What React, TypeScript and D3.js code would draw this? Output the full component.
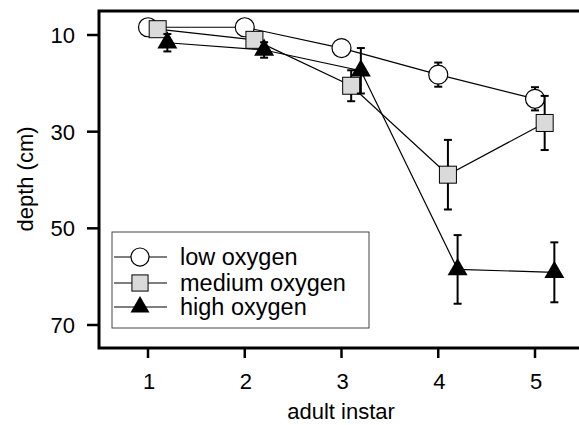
import React from 'react';
import * as d3 from 'd3';

// Data
const instars = [1, 2, 3, 4, 5];
const lowDepth = [8.4, 8.4, 12.7, 18.2, 23.2];
const lowErr = [0.8, 0.8, 1.0, 2.5, 2.4];
const mediumDepth = [8.8, 11.0, 20.5, 38.9, 28.2];
const mediumErr = [1.0, 1.2, 3.2, 7.2, 5.6];
const highDepth = [11.6, 13.1, 17.4, 58.5, 59.1];
const highErr = [1.8, 1.6, 4.7, 7.1, 6.2];
const yTicks = [10, 30, 50, 70];
const xTicks = [1, 2, 3, 4, 5];

type Shape = 'circle' | 'square' | 'triangle';

interface Series {
  name: string;
  values: number[];
  errors: number[];
  shape: Shape;
  offset: number;
}

const series: Series[] = [
  { name: 'low oxygen', values: lowDepth, errors: lowErr, shape: 'circle', offset: 0 },
  { name: 'medium oxygen', values: mediumDepth, errors: mediumErr, shape: 'square', offset: 0.1 },
  { name: 'high oxygen', values: highDepth, errors: highErr, shape: 'triangle', offset: 0.2 },
];

const W = 579;
const H = 425;
const FONT = '"Liberation Sans", Arial, Helvetica, sans-serif';

const Marker = ({ shape, cx, cy, scale = 1 }: { shape: Shape; cx: number; cy: number; scale?: number }) => {
  if (shape === 'circle') {
    return <circle cx={cx} cy={cy} r={9.5 * scale} fill="#fff" stroke="#000" strokeWidth={1.2} />;
  }
  if (shape === 'square') {
    const s = 17 * scale;
    return <rect x={cx - s / 2} y={cy - s / 2} width={s} height={s} fill="#dadada" stroke="#000" strokeWidth={1} />;
  }
  const path = d3.symbol().type(d3.symbolTriangle).size(173 * scale * scale)();
  return <path d={path || undefined} transform={`translate(${cx},${cy})`} fill="#000" />;
};

const App = () => {
  const x = d3.scaleLinear().domain([1, 5]).range([148, 535]);
  const y = d3.scaleLinear().domain([10, 70]).range([35, 325]);

  const left = 99;
  const top = 11;
  const bottom = 348;

  const line = d3
    .line<[number, number]>()
    .x(d => d[0])
    .y(d => d[1]);

  const legendRows = [257, 283, 307];

  return (
    <svg
      width={W}
      height={H}
      style={{ position: 'absolute', left: 0, top: 0, background: '#fff' }}
      fontFamily={FONT}
    >
      {/* frame */}
      <rect x={left} y={top} width={W} height={bottom - top} fill="none" stroke="#000" strokeWidth={3} />

      {/* y axis */}
      {yTicks.map(t => (
        <g key={`y${t}`}>
          <line x1={left - 12} x2={left} y1={y(t)} y2={y(t)} stroke="#000" strokeWidth={2.5} />
          <text x={75} y={y(t)} dy="0.36em" textAnchor="end" fontSize={22}>
            {t}
          </text>
        </g>
      ))}
      <text transform={`translate(33,179) rotate(-90)`} textAnchor="middle" fontSize={22}>
        depth (cm)
      </text>

      {/* x axis */}
      {xTicks.map(t => (
        <g key={`x${t}`}>
          <line x1={x(t)} x2={x(t)} y1={bottom} y2={bottom + 10} stroke="#000" strokeWidth={2.5} />
          <text x={x(t) + 1} y={389} textAnchor="middle" fontSize={22}>
            {t}
          </text>
        </g>
      ))}
      <text x={341} y={419} textAnchor="middle" fontSize={22}>
        adult instar
      </text>

      {/* connecting lines */}
      {series.map(s => (
        <path
          key={`l-${s.name}`}
          d={line(instars.map((d, i) => [x(d + s.offset), y(s.values[i])])) || undefined}
          fill="none"
          stroke="#000"
          strokeWidth={1.2}
        />
      ))}

      {/* error bars and markers */}
      {series.map(s => (
        <g key={`m-${s.name}`}>
          {instars.map((d, i) => {
            const cx = x(d + s.offset);
            const y0 = y(s.values[i] - s.errors[i]);
            const y1 = y(s.values[i] + s.errors[i]);
            return (
              <g key={i}>
                <line x1={cx} x2={cx} y1={y0} y2={y1} stroke="#000" strokeWidth={2} />
                <line x1={cx - 4} x2={cx + 4} y1={y0} y2={y0} stroke="#000" strokeWidth={2} />
                <line x1={cx - 4} x2={cx + 4} y1={y1} y2={y1} stroke="#000" strokeWidth={2} />
              </g>
            );
          })}
          {instars.map((d, i) => (
            <Marker key={`p${i}`} shape={s.shape} cx={x(d + s.offset)} cy={y(s.values[i])} />
          ))}
        </g>
      ))}

      {/* legend */}
      <rect x={112} y={232} width={257} height={96} fill="#fff" stroke="#444" strokeWidth={1} />
      {series.map((s, i) => (
        <g key={`lg-${s.name}`}>
          <line x1={114} x2={167} y1={legendRows[i]} y2={legendRows[i]} stroke="#000" strokeWidth={1.2} />
          <Marker shape={s.shape} cx={140} cy={legendRows[i]} scale={0.95} />
          <text x={180} y={legendRows[i] + 8} fontSize={23.5}>
            {s.name}
          </text>
        </g>
      ))}
    </svg>
  );
};

export default App;
